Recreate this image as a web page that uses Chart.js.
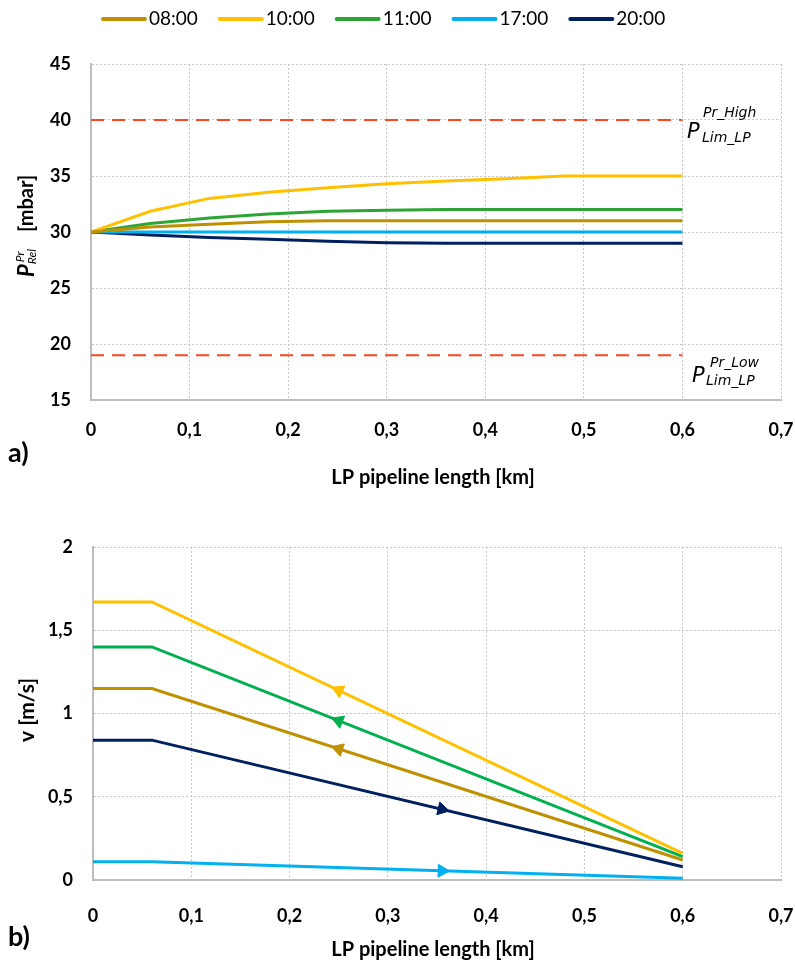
<!DOCTYPE html>
<html>
<head>
<meta charset="utf-8">
<script src="https://cdn.jsdelivr.net/npm/chart.js@4.4.1/dist/chart.umd.min.js"></script>
<style>
  body { margin: 0; background: #fff; }
  canvas { display: block; }
</style>
</head>
<body>
<canvas id="chart-pressure" width="795" height="495"></canvas>
<canvas id="chart-velocity" width="795" height="473"></canvas>
<script>
// series names + colours
const hours = ['08:00', '10:00', '11:00', '17:00', '20:00'];
const colorsTop = ['#BF9000', '#FFC000', '#2CA534', '#00B0F0', '#002060'];
const colorsBottom = ['#BF9000', '#FFC000', '#00B050', '#00B0F0', '#002060'];

// a) pressure along the LP pipeline [km] -> [mbar]
const lengthP = [0, 0.06, 0.12, 0.18, 0.24, 0.30, 0.36, 0.42, 0.48, 0.54, 0.60];
const p0800 = [30, 30.45, 30.7, 30.92, 31, 31, 31, 31, 31, 31, 31];
const p1000 = [30, 31.85, 33.0, 33.55, 33.95, 34.3, 34.55, 34.75, 35, 35, 35];
const p1100 = [30, 30.75, 31.25, 31.6, 31.85, 31.95, 32, 32, 32, 32, 32];
const p1700 = [30, 30, 30, 30, 30, 30, 30, 30, 30, 30, 30];
const p2000 = [30, 29.74, 29.5, 29.35, 29.17, 29.03, 29, 29, 29, 29, 29];
const limitX = [0, 0.6];
const limHigh = [40, 40];
const limLow = [19, 19];
const yTicksTop = [15, 45, 5]; // min, max, step

// b) velocity along the LP pipeline [km] -> [m/s]
const lengthV = [0, 0.06, 0.6];
const v0800 = [1.15, 1.15, 0.12];
const v1000 = [1.67, 1.67, 0.16];
const v1100 = [1.40, 1.40, 0.14];
const v1700 = [0.11, 0.11, 0.01];
const v2000 = [0.84, 0.84, 0.08];
// flow direction arrows
const arrowX = [0.25, 0.25, 0.25, 0.355, 0.355];
const arrowY = [0.787, 1.139, 0.956, 0.055, 0.425];
const arrowRot = [-72, -65, -68.5, 92, 103.5];
const yTicksBottom = [0, 2, 0.5];

const xTicks = [0, 0.7, 0.1];

Chart.defaults.font.family = 'Lato';
Chart.defaults.color = '#000';

function pts(xs, ys) {
    return xs.map((x, i) => ({ x: x, y: ys[i] }));
}
function comma(v) {
    return String(Math.round(v * 100) / 100).replace('.', ',');
}

function axes(yMin, yMax, yStep, yWidth, xHeight, xPad) {
    const grid = { color: '#c8c8c8', lineWidth: 1, drawTicks: false };
    const border = { color: '#bdbdbd', width: 2, dash: [2, 2] };
    return {
        x: {
            type: 'linear', min: xTicks[0], max: xTicks[1],
            ticks: { stepSize: xTicks[2], padding: xPad, font: { size: 18, weight: 'bold' }, callback: comma },
            grid: grid, border: border,
            afterFit: s => { s.height = xHeight; s.paddingLeft = 0; s.paddingRight = 0; }
        },
        y: {
            min: yMin, max: yMax,
            ticks: { stepSize: yStep, padding: 20, font: { size: 18, weight: 'bold' }, callback: comma },
            grid: grid, border: border,
            afterFit: s => { s.width = yWidth; s.paddingTop = 0; s.paddingBottom = 0; }
        }
    };
}

// ---------- a) pressure ----------
const pSeries = [p0800, p1000, p1100, p1700, p2000];
const pressureSets = [
    { label: 'lim high', data: pts(limitX, limHigh), borderColor: '#FF4521', borderWidth: 2, borderDash: [13, 8], legend: false },
    { label: 'lim low', data: pts(limitX, limLow), borderColor: '#FF4521', borderWidth: 2, borderDash: [13, 8], legend: false }
];
hours.forEach((h, i) => {
    pressureSets.push({ label: h, data: pts(lengthP, pSeries[i]), borderColor: colorsTop[i], borderWidth: 3, legend: true });
});

const pressureText = {
    id: 'pressureText',
    afterDraw(chart) {
        const ctx = chart.ctx;
        ctx.save();
        ctx.fillStyle = '#000';

        // legend
        let lx = 103;
        chart.data.datasets.filter(d => d.legend).forEach(d => {
            ctx.strokeStyle = d.borderColor;
            ctx.lineWidth = 4;
            ctx.lineCap = 'round';
            ctx.beginPath(); ctx.moveTo(lx, 19); ctx.lineTo(lx + 42, 19); ctx.stroke();
            ctx.font = '19px Lato';
            ctx.textBaseline = 'middle';
            ctx.fillText(d.label, lx + 46, 19);
            lx += 46 + ctx.measureText(d.label).width + 22;
        });

        // y title  P^Pr_Rel [mbar]
        ctx.save();
        ctx.translate(34, 277);
        ctx.rotate(-Math.PI / 2);
        ctx.textBaseline = 'alphabetic';
        ctx.font = 'italic bold 22px Lato';
        ctx.fillText('P', 0, 0);
        const pw = ctx.measureText('P').width;
        ctx.font = 'italic 12px Lato';
        ctx.fillText('Pr', pw + 2, -10);
        ctx.fillText('Rel', pw, 2);
        ctx.font = 'bold 20px Lato';
        ctx.fillText('[mbar]', 45, -1);
        ctx.restore();

        // x title
        ctx.font = 'bold 20px Lato';
        ctx.textAlign = 'center';
        ctx.textBaseline = 'alphabetic';
        ctx.fillText('LP pipeline length [km]', 433, 484);

        // panel letter
        ctx.textAlign = 'left';
        ctx.font = 'bold 27px Lato';
        ctx.fillText('a)', 8, 462);

        // limit labels
        ctx.font = 'italic 21px "DejaVu Sans"';
        ctx.fillText('P', 687, 138);
        ctx.fillText('P', 692, 382);
        ctx.font = 'italic 14px "DejaVu Sans"';
        ctx.fillText('Pr_High', 703, 117);
        ctx.fillText('Lim_LP', 702, 142);
        ctx.fillText('Pr_Low', 710, 367);
        ctx.fillText('Lim_LP', 706, 385);
        ctx.restore();
    }
};

new Chart(document.getElementById('chart-pressure'), {
    type: 'line',
    data: { datasets: pressureSets },
    options: {
        responsive: false,
        animation: false,
        layout: { padding: { top: 64, right: 14, bottom: 0, left: 0 } },
        elements: { point: { radius: 0 }, line: { tension: 0 } },
        plugins: { legend: { display: false }, tooltip: { enabled: false } },
        scales: axes(yTicksTop[0], yTicksTop[1], yTicksTop[2], 91, 95, 19)
    },
    plugins: [pressureText]
});

// ---------- b) velocity ----------
const vSeries = [v0800, v1000, v1100, v1700, v2000];
const velocitySets = [];
hours.forEach((h, i) => {
    velocitySets.push({ label: h, data: pts(lengthV, vSeries[i]), borderColor: colorsBottom[i], borderWidth: 3 });
});
hours.forEach((h, i) => {
    velocitySets.push({
        label: h + ' arrow',
        data: [{ x: arrowX[i], y: arrowY[i] }],
        showLine: false,
        pointStyle: 'triangle',
        pointRadius: 7.5,
        pointRotation: arrowRot[i],
        pointBackgroundColor: colorsBottom[i],
        pointBorderColor: colorsBottom[i],
        pointBorderWidth: 1
    });
});

const velocityText = {
    id: 'velocityText',
    afterDraw(chart) {
        const ctx = chart.ctx;
        ctx.save();
        ctx.fillStyle = '#000';

        ctx.save();
        ctx.translate(34, 215);
        ctx.rotate(-Math.PI / 2);
        ctx.font = 'bold 21px Lato';
        ctx.textAlign = 'center';
        ctx.fillText('v [m/s]', 0, 0);
        ctx.restore();

        ctx.font = 'bold 20px Lato';
        ctx.textAlign = 'center';
        ctx.fillText('LP pipeline length [km]', 433, 461);

        ctx.textAlign = 'left';
        ctx.font = 'bold 27px Lato';
        ctx.fillText('b)', 8, 451);
        ctx.restore();
    }
};

new Chart(document.getElementById('chart-velocity'), {
    type: 'line',
    data: { datasets: velocitySets },
    options: {
        responsive: false,
        animation: false,
        layout: { padding: { top: 52, right: 14, bottom: 0, left: 0 } },
        elements: { point: { radius: 0 }, line: { tension: 0 } },
        plugins: { legend: { display: false }, tooltip: { enabled: false } },
        scales: axes(yTicksBottom[0], yTicksBottom[1], yTicksBottom[2], 93, 88, 25)
    },
    plugins: [velocityText]
});
</script>
</body>
</html>
